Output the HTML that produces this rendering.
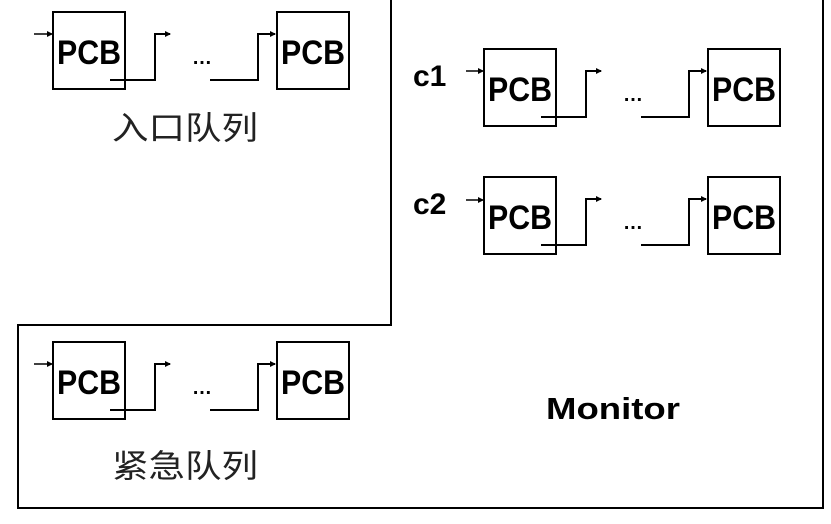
<!DOCTYPE html>
<html><head><meta charset="utf-8"><style>
body{margin:0;background:#fff;}
svg text{font-family:"Liberation Sans","Noto Sans CJK SC",sans-serif;}
</style></head><body>
<svg width="831" height="519" xmlns="http://www.w3.org/2000/svg">
<defs>
<marker id="a" markerWidth="6" markerHeight="6" refX="5" refY="3" orient="auto" markerUnits="userSpaceOnUse">
<path d="M0,0 L6,3 L0,6 z" fill="#000"/></marker>
<g id="q">
<rect x="0" y="0" width="72" height="77" fill="none" stroke="#000" stroke-width="2"/>
<rect x="224" y="0" width="72" height="77" fill="none" stroke="#000" stroke-width="2"/>
<text x="4" y="52" font-size="34" font-weight="bold" textLength="64" lengthAdjust="spacingAndGlyphs">PCB</text>
<text x="228" y="52" font-size="34" font-weight="bold" textLength="64" lengthAdjust="spacingAndGlyphs">PCB</text>
<path d="M57,68 H102 V22 H117" fill="none" stroke="#000" stroke-width="2" marker-end="url(#a)"/>
<path d="M157,68 H205 V22 H222" fill="none" stroke="#000" stroke-width="2" marker-end="url(#a)"/>
<text x="149" y="52" font-size="20" font-weight="bold" text-anchor="middle">…</text>
</g>
</defs>
<g stroke="#000" stroke-width="2" fill="none">
<path d="M391,0 V325 H18 V508 H823 V0"/>
</g>
<g transform="translate(53,12)"><use href="#q"/></g>
<path d="M34,34 H52" stroke="#000" stroke-width="1.5" marker-end="url(#a)"/>
<text x="112" y="139" font-size="32" textLength="146" lengthAdjust="spacingAndGlyphs" fill="#222">入口队列</text>

<g transform="translate(484,49)"><use href="#q"/></g>
<path d="M466,71 H483" stroke="#000" stroke-width="1.5" marker-end="url(#a)"/>
<text x="413" y="86" font-size="30" font-weight="bold">c1</text>

<g transform="translate(484,177)"><use href="#q"/></g>
<path d="M466,200 H483" stroke="#000" stroke-width="1.5" marker-end="url(#a)"/>
<text x="413" y="214" font-size="30" font-weight="bold">c2</text>

<g transform="translate(53,342)"><use href="#q"/></g>
<path d="M34,364 H52" stroke="#000" stroke-width="1.5" marker-end="url(#a)"/>
<text x="112" y="477" font-size="32" textLength="146" lengthAdjust="spacingAndGlyphs" fill="#222">紧急队列</text>

<text x="546" y="419" font-size="31" font-weight="bold" textLength="134" lengthAdjust="spacingAndGlyphs">Monitor</text>
</svg>
</body></html>
